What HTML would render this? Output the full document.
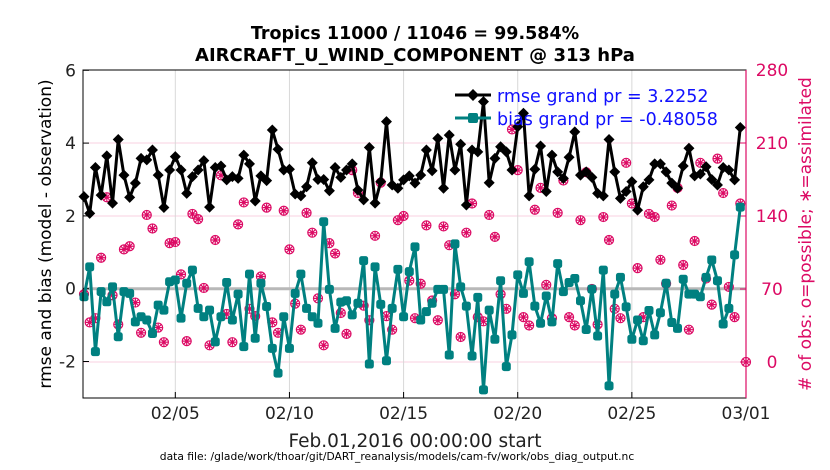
<!DOCTYPE html>
<html><head><meta charset="utf-8">
<style>
body{margin:0;background:#fff;}
svg{display:block;font-family:"DejaVu Sans","Liberation Sans",sans-serif;}
</style></head>
<body>
<svg id="chart" width="830" height="470" viewBox="0 0 830 470" xmlns="http://www.w3.org/2000/svg">
<text x="415" y="39" text-anchor="middle" font-size="17.5" font-weight="bold">Tropics 11000 / 11046 = 99.584%</text>
<text x="415" y="61" text-anchor="middle" font-size="18" font-weight="bold">AIRCRAFT_U_WIND_COMPONENT @ 313 hPa</text>
<g id="grid"></g>
<g id="ticks"></g>
<g id="obs"></g>
<g id="rmse"></g>
<g id="bias"></g>
<rect x="83" y="70" width="663" height="328" fill="none" stroke="#000" stroke-width="1"/>
<line x1="746" y1="70" x2="746" y2="398" stroke="#dc0a64" stroke-width="1.2"/>
<text transform="translate(51,234) rotate(-90)" text-anchor="middle" font-size="17">rmse and bias (model - observation)</text>
<text transform="translate(811,234) rotate(-90)" text-anchor="middle" font-size="17" fill="#dc0a64"># of obs: o=possible; ∗=assimilated</text>
<text x="415" y="447" text-anchor="middle" font-size="18.5" fill="#222">Feb.01,2016 00:00:00 start</text>
<text x="397" y="460" text-anchor="middle" font-size="10.7">data file: /glade/work/thoar/git/DART_reanalysis/models/cam-fv/work/obs_diag_output.nc</text>
<g>
<line x1="455" y1="95" x2="491" y2="95" stroke="#000" stroke-width="3"/>
<path d="M473 89 L479 95 L473 101 L467 95Z" fill="#000"/>
<text x="497" y="102" font-size="17.5" fill="#1010ff">rmse grand pr = 3.2252</text>
<line x1="455" y1="118" x2="491" y2="118" stroke="#008080" stroke-width="3"/>
<rect x="468" y="113" width="10" height="10" rx="2" fill="#008080"/>
<text x="497" y="125" font-size="17.5" fill="#1010ff">bias grand pr = -0.48058</text>
</g>
</svg>
<script>
const rmseValues=[2.53,2.07,3.33,2.57,3.65,2.35,4.1,3.12,2.51,2.9,3.58,3.54,3.81,3.12,2.23,3.26,3.63,3.26,2.62,3.08,3.26,
3.52,2.24,3.33,3.37,2.99,3.08,3.03,3.67,3.43,2.41,3.1,2.97,4.36,3.83,3.26,3.28,2.6,2.55,2.8,
3.46,3.0,3.0,2.69,3.33,3.06,3.26,3.43,2.71,2.44,3.88,2.35,2.94,4.59,2.85,2.76,2.99,3.1,2.9,
3.12,3.81,3.24,4.13,2.76,4.22,3.26,3.97,2.3,3.81,3.76,5.14,2.91,3.58,3.9,3.76,3.26,4.45,
4.82,2.55,3.28,3.92,2.67,3.67,3.21,3.03,3.61,4.31,3.12,3.21,3.06,2.62,2.55,4.1,3.21,2.48,2.67,2.94,2.16,
2.8,2.99,3.43,3.43,3.21,2.9,2.76,3.37,3.86,3.1,3.15,3.35,3.0,2.85,3.33,3.26,2.99,4.43];
const biasValues=[-0.22,0.6,-1.73,-0.08,-0.36,0.05,-1.32,-0.08,-0.13,-0.91,-0.77,-0.86,-1.23,-0.45,-0.59,0.19,0.24,-0.81,0.15,0.51,-0.54,
-0.77,-0.59,-1.46,-0.77,0.17,-0.86,-0.15,-1.59,0.4,-1.36,0.15,-0.49,-1.64,-2.32,-0.77,-1.64,-0.13,0.4,-0.54,
-0.77,-0.95,1.84,-0.02,-1.09,-0.37,-0.33,-0.72,-0.4,0.77,-2.07,0.6,-0.43,-1.98,-0.54,0.53,-0.77,0.47,1.15,
-0.86,-0.63,-0.4,-0.02,-0.02,-1.82,1.23,0.05,-0.48,-1.85,-0.24,-2.78,-0.59,-1.39,0.22,-2.14,-1.27,0.38,
-0.13,0.74,-0.48,-0.95,-0.2,-0.91,0.69,-0.08,0.17,0.28,-0.33,-1.12,-0.01,-1.3,0.51,-2.67,-0.15,0.31,-0.5,-1.39,-0.86,
-1.43,-0.6,-1.27,-0.66,0.15,-0.93,-1.09,0.26,-0.15,-0.15,-0.22,0.31,0.79,0.22,-0.97,-0.54,0.93,2.24];
const obsCounts=[65,38,42,100,158,64,36,108,111,57,28,141,128,33,19,114,115,84,20,142,137,
71,16,117,179,46,19,132,153,51,44,82,148,38,28,145,108,56,31,143,
124,61,16,114,104,47,27,184,162,54,40,121,172,44,31,136,140,78,42,
75,131,59,40,130,112,65,24,124,152,43,39,141,120,65,51,223,184,
43,35,146,167,74,42,143,174,43,35,136,182,70,36,139,117,51,42,191,152,90,
43,142,139,98,75,150,167,93,31,116,191,80,55,195,162,72,43,152,0];
const xTickDays=[4,9,14,19,24,29];
const xTickLabels=["02/05","02/10","02/15","02/20","02/25","03/01"];
const yTicksLeft=[-2,0,2,4,6];
const yTicksRight=[0,70,140,210,280];

const NS="http://www.w3.org/2000/svg";
const X0=84,X1=746,DAYS=29;
const xDay=d=>X0+(X1-X0)*d/DAYS;
const xIdx=i=>xDay(i*0.25);
const yL=v=>288.7-v*36.4;
const yR=c=>362-c*(292/280);
function mk(tag,attrs,parent){const e=document.createElementNS(NS,tag);for(const k in attrs)e.setAttribute(k,attrs[k]);parent.appendChild(e);return e;}
const grid=document.getElementById('grid'),ticks=document.getElementById('ticks');
yTicksRight.forEach(c=>{
  if(c===70)return;
  const l=mk('line',{x1:83,x2:746,y1:yR(c),y2:yR(c),stroke:'#f8d0e0','stroke-width':1},grid);
  
  
});
xTickDays.slice(0,5).forEach(d=>{
  const l=mk('line',{x1:xDay(d),x2:xDay(d),y1:70,y2:398,stroke:'#d8d8d8','stroke-width':1},grid);
  
  
});
const zl=mk('line',{x1:83,x2:746,y1:yL(0),y2:yL(0),stroke:'#b8b8b8','stroke-width':3},grid);


xTickDays.forEach((d,i)=>{
  mk('line',{x1:xDay(d),x2:xDay(d),y1:398,y2:392,stroke:'#000'},ticks);
  const t=mk('text',{x:xDay(d),y:419,'text-anchor':'middle','font-size':17,fill:'#222'},ticks);
  t.textContent=xTickLabels[i];
  
  
});
yTicksLeft.forEach(v=>{
  mk('line',{x1:83,x2:89,y1:yL(v),y2:yL(v),stroke:'#000'},ticks);
  const t=mk('text',{x:76,y:yL(v)+6,'text-anchor':'end','font-size':17,fill:'#222'},ticks);
  t.textContent=v;
  
  
});
yTicksRight.forEach(c=>{
  mk('line',{x1:740,x2:746,y1:yR(c),y2:yR(c),stroke:'#dc0a64'},ticks);
  const t=mk('text',{x:772,y:yR(c)+6,'text-anchor':'middle','font-size':17,fill:'#dc0a64'},ticks);
  t.textContent=c;
  
  
});
const og=document.getElementById('obs');
obsCounts.forEach((c,i)=>{
  const x=xIdx(i),y=yR(c);
  const g=mk('g',{stroke:'#dc0a64','stroke-width':1.2,fill:'none'},og);
  
  
  mk('circle',{cx:x,cy:y,r:4.5},g);
  mk('path',{d:`M${x-4} ${y}H${x+4}M${x} ${y-4}V${y+4}M${x-3} ${y-3}L${x+3} ${y+3}M${x-3} ${y+3}L${x+3} ${y-3}`},g);
});
const rg=document.getElementById('rmse');
const rl=mk('polyline',{points:rmseValues.map((v,i)=>xIdx(i)+','+yL(v)).join(' '),fill:'none',stroke:'#000','stroke-width':3,'stroke-linejoin':'round'},rg);


rmseValues.forEach((v,i)=>{
  const x=xIdx(i),y=yL(v);
  const p=mk('path',{d:`M${x} ${y-5.5}L${x+5.5} ${y}L${x} ${y+5.5}L${x-5.5} ${y}Z`,fill:'#000'},rg);
  
  
});
const bg=document.getElementById('bias');
const bl=mk('polyline',{points:biasValues.map((v,i)=>xIdx(i)+','+yL(v)).join(' '),fill:'none',stroke:'#008080','stroke-width':3,'stroke-linejoin':'round'},bg);


biasValues.forEach((v,i)=>{
  const x=xIdx(i),y=yL(v);
  const r=mk('rect',{x:x-4.5,y:y-4.5,width:9,height:9,rx:2.5,fill:'#008080'},bg);
  
  
});
</script>
</body></html>
